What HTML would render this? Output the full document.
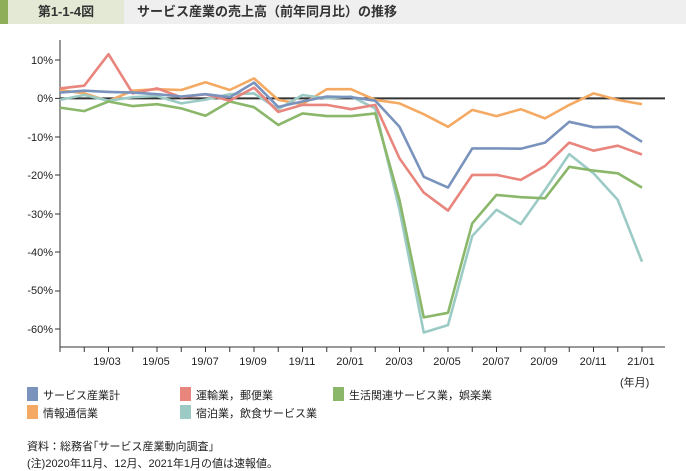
<!DOCTYPE html>
<html><head><meta charset="utf-8"><style>
html,body{margin:0;padding:0;background:#fff;}
body{width:686px;height:468px;position:relative;overflow:hidden;font-family:"Liberation Sans","Noto Sans CJK JP",sans-serif;color:#222;}
.hdr{position:absolute;left:0;top:0;width:686px;height:24px;background:#eeefee;}
.g{position:absolute;left:0;top:0;width:8px;height:24px;background:#8fae5a;}
.lb{position:absolute;left:8px;top:0;width:116px;height:24px;background:#e3e9d5;font-size:13px;line-height:24px;text-align:center;font-weight:bold;color:#333;}
.tt{position:absolute;left:137px;top:0;font-size:13px;line-height:24px;font-weight:bold;color:#333;}
.t{position:absolute;font-size:11px;white-space:nowrap;}
.sq{position:absolute;width:11px;height:14px;}
</style></head><body>
<div class="hdr"><div class="g"></div><div class="lb">第1-1-4図</div><div class="tt">サービス産業の売上高（前年同月比）の推移</div></div>
<svg width="686" height="468" style="position:absolute;left:0;top:0" xmlns="http://www.w3.org/2000/svg">
<g font-family="Liberation Sans, Noto Sans CJK JP, sans-serif" font-size="11" fill="#222" text-anchor="end">
<text x="53" y="64">10%</text><text x="53" y="102">0%</text><text x="53" y="141">-10%</text><text x="53" y="179">-20%</text><text x="53" y="218">-30%</text><text x="53" y="256">-40%</text><text x="53" y="294">-50%</text><text x="53" y="333">-60%</text>
</g>
<g stroke="#333" stroke-width="1">
<line x1="60" y1="40" x2="60" y2="347"/><line x1="60" y1="347" x2="665" y2="347"/>
<line x1="55" y1="60" x2="60" y2="60"/><line x1="55" y1="98.4" x2="60" y2="98.4"/><line x1="55" y1="137" x2="60" y2="137"/><line x1="55" y1="175" x2="60" y2="175"/><line x1="55" y1="214" x2="60" y2="214"/><line x1="55" y1="252" x2="60" y2="252"/><line x1="55" y1="291" x2="60" y2="291"/><line x1="55" y1="329" x2="60" y2="329"/>
</g>
<g id="xt" stroke="#333" stroke-width="1"></g>
<g id="xl" font-family="Liberation Sans, sans-serif" font-size="11" fill="#222" text-anchor="middle"></g>
<line x1="60" y1="98.4" x2="665" y2="98.4" stroke="#333" stroke-width="2"/>
<g id="ser" fill="none" stroke-width="2.6" stroke-linejoin="round"></g>
</svg>
<div class="t" style="left:620px;top:374px;">(年月)</div>
<div class="sq" style="left:27px;top:387px;background:#7a93bd"></div><div class="t" style="left:43px;top:387px;">サービス産業計</div>
<div class="sq" style="left:180px;top:387px;background:#e8857d"></div><div class="t" style="left:196px;top:387px;">運輸業，郵便業</div>
<div class="sq" style="left:333px;top:387px;background:#8bb76a"></div><div class="t" style="left:349px;top:387px;">生活関連サービス業，娯楽業</div>
<div class="sq" style="left:27px;top:405px;background:#f5aa63"></div><div class="t" style="left:43px;top:405px;">情報通信業</div>
<div class="sq" style="left:180px;top:405px;background:#9ccbc6"></div><div class="t" style="left:196px;top:405px;">宿泊業，飲食サービス業</div>
<div class="t" style="left:27px;top:438px;">資料：総務省｢サービス産業動向調査｣</div>
<div class="t" style="left:27px;top:455px;">(注)2020年11月、12月、2021年1月の値は速報値。</div>
<svg width="0" height="0"></svg>
<div style="display:none"></div>
<svg width="686" height="468" style="position:absolute;left:0;top:0" xmlns="http://www.w3.org/2000/svg">
<g stroke="#333" stroke-width="1">
<line x1="60" y1="347" x2="60" y2="352"/><line x1="84.25" y1="347" x2="84.25" y2="352"/><line x1="108.5" y1="347" x2="108.5" y2="352"/><line x1="132.75" y1="347" x2="132.75" y2="352"/><line x1="157" y1="347" x2="157" y2="352"/><line x1="181.25" y1="347" x2="181.25" y2="352"/><line x1="205.5" y1="347" x2="205.5" y2="352"/><line x1="229.75" y1="347" x2="229.75" y2="352"/><line x1="254" y1="347" x2="254" y2="352"/><line x1="278.25" y1="347" x2="278.25" y2="352"/><line x1="302.5" y1="347" x2="302.5" y2="352"/><line x1="326.75" y1="347" x2="326.75" y2="352"/><line x1="351" y1="347" x2="351" y2="352"/><line x1="375.25" y1="347" x2="375.25" y2="352"/><line x1="399.5" y1="347" x2="399.5" y2="352"/><line x1="423.75" y1="347" x2="423.75" y2="352"/><line x1="448" y1="347" x2="448" y2="352"/><line x1="472.25" y1="347" x2="472.25" y2="352"/><line x1="496.5" y1="347" x2="496.5" y2="352"/><line x1="520.75" y1="347" x2="520.75" y2="352"/><line x1="545" y1="347" x2="545" y2="352"/><line x1="569.25" y1="347" x2="569.25" y2="352"/><line x1="593.5" y1="347" x2="593.5" y2="352"/><line x1="617.75" y1="347" x2="617.75" y2="352"/><line x1="642" y1="347" x2="642" y2="352"/>
</g>
<g font-family="Liberation Sans, sans-serif" font-size="11" fill="#222" text-anchor="middle">
<text x="107" y="365">19/03</text><text x="156" y="365">19/05</text><text x="205" y="365">19/07</text><text x="253" y="365">19/09</text><text x="302" y="365">19/11</text><text x="350" y="365">20/01</text><text x="399" y="365">20/03</text><text x="447" y="365">20/05</text><text x="496" y="365">20/07</text><text x="544" y="365">20/09</text><text x="593" y="365">20/11</text><text x="641" y="365">21/01</text>
</g>
<g fill="none" stroke-width="2.6" stroke-linejoin="round">
<polyline stroke="#f5aa63" points="60,90 84.25,93.4 108.5,101.1 132.75,90.7 157,89.2 181.25,90 205.5,82.3 229.75,90 254,78.4 278.25,99.9 302.5,104.2 326.75,89.2 351,89.2 375.25,99.9 399.5,103.4 423.75,114.2 448,126.8 472.25,109.9 496.5,116.1 520.75,109.2 545,118.4 569.25,104.9 593.5,93.4 617.75,99.9 642,104.2"/>
<polyline stroke="#9ccbc6" points="60,99.9 84.25,95 108.5,100.7 132.75,97.2 157,96.1 181.25,103.4 205.5,99.6 229.75,94.2 254,93.4 278.25,109.2 302.5,95 326.75,98.4 351,96.5 375.25,108.4 399.5,209.8 423.75,332.5 448,325.1 472.25,236 496.5,209.8 520.75,224.1 545,189.9 569.25,154.1 593.5,173.3 617.75,199.9 642,261.7"/>
<polyline stroke="#8bb76a" points="60,107.6 84.25,111.1 108.5,101.5 132.75,106.1 157,104.2 181.25,108.4 205.5,115.7 229.75,101.5 254,107.2 278.25,124.9 302.5,113.4 326.75,116.1 351,116.1 375.25,113.4 399.5,199.9 423.75,317.4 448,312.8 472.25,223.3 496.5,194.9 520.75,197.2 545,198.3 569.25,166.8 593.5,170.6 617.75,173.3 642,187.6"/>
<polyline stroke="#e8857d" points="60,88.4 84.25,85.7 108.5,54.2 132.75,93.4 157,88.4 181.25,97.2 205.5,94.2 229.75,100.7 254,87.6 278.25,111.9 302.5,104.9 326.75,104.9 351,109.2 375.25,104.9 399.5,158.4 423.75,192.6 448,210.6 472.25,174.9 496.5,174.9 520.75,179.9 545,166 569.25,142.6 593.5,150.7 617.75,145.7 642,154.5"/>
<polyline stroke="#7a93bd" points="60,92.6 84.25,90.7 108.5,91.9 132.75,92.6 157,94.2 181.25,96.5 205.5,94.2 229.75,97.2 254,82.6 278.25,106.9 302.5,101.5 326.75,96.5 351,97.2 375.25,100.7 399.5,126.8 423.75,176.8 448,187.6 472.25,148.4 496.5,148.4 520.75,148.7 545,142.6 569.25,121.8 593.5,127.2 617.75,126.8 642,141.8"/>
</g>
</svg>
</body></html>
